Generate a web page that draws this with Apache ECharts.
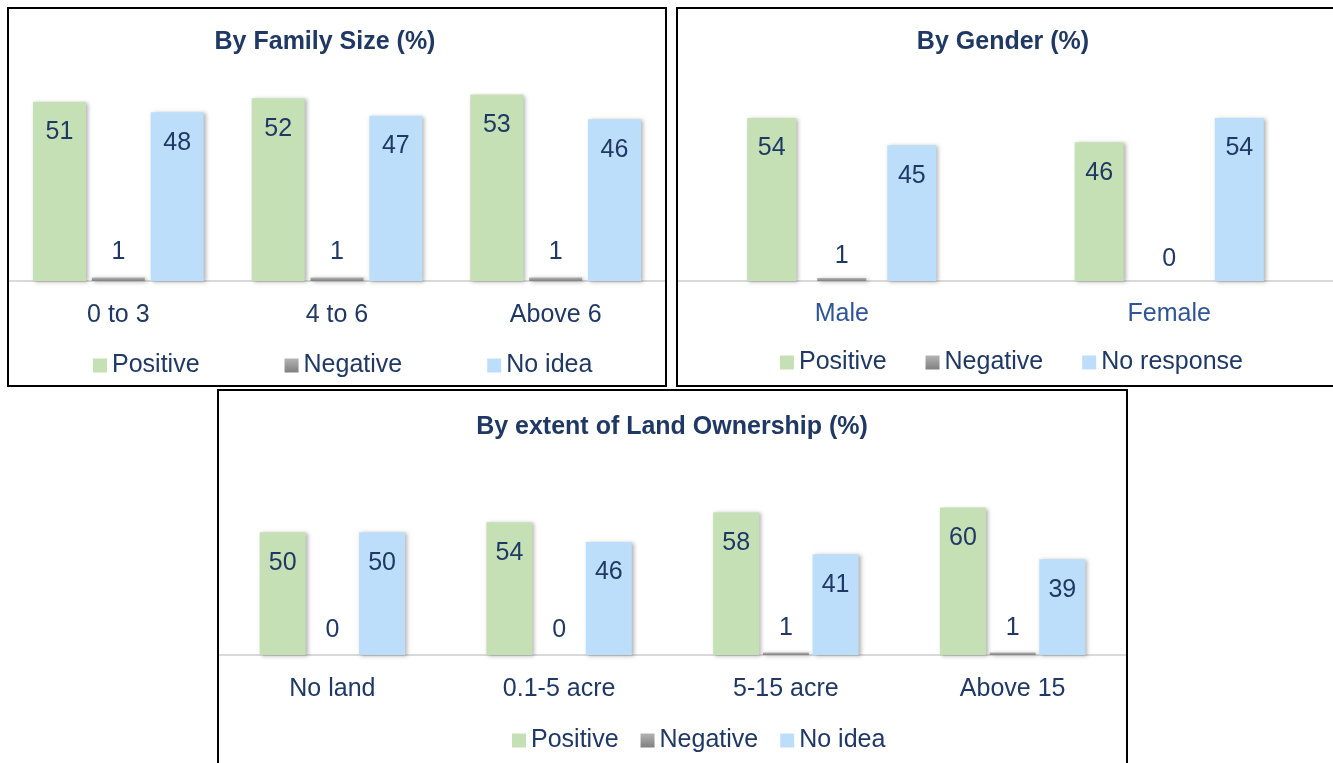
<!DOCTYPE html>
<html>
<head>
<meta charset="utf-8">
<script src="https://cdn.jsdelivr.net/npm/echarts@6/dist/echarts.min.js"></script>
<style>
  html, body { margin: 0; padding: 0; background: #fff; overflow: hidden; }
  body { width: 1333px; height: 763px; position: relative; }
  .panel { position: absolute; border: 2px solid #000; background: #fff; }
  #family { left: 7px; top: 7px; width: 656px; height: 376px; }
  #gender { left: 676px; top: 7px; width: 700px; height: 376px; }
  #land { left: 217px; top: 389px; width: 907px; height: 390px; }
</style>
</head>
<body>
<div id="family" class="panel"></div>
<div id="gender" class="panel"></div>
<div id="land" class="panel"></div>
<script>
// 数据
var familyCats = ["0 to 3", "4 to 6", "Above 6"];
var familyPositive = [51, 52, 53];
var familyNegative = [1, 1, 1];
var familyNoIdea = [48, 47, 46];

var genderCats = ["Male", "Female"];
var genderPositive = [54, 46];
var genderNegative = [1, 0];
var genderNoResponse = [45, 54];

var landCats = ["No land", "0.1-5 acre", "5-15 acre", "Above 15"];
var landPositive = [50, 54, 58, 60];
var landNegative = [0, 0, 1, 1];
var landNoIdea = [50, 46, 41, 39];

var FONT = "'Liberation Sans', Arial, sans-serif";
var NAVY = "#1F3864";
var GREEN = "#C5E0B4";
var BLUE = "#BDDEFB";
var GRAY = new echarts.graphic.LinearGradient(0, 0, 0, 1, [
  { offset: 0, color: "#B4B4B4" },
  { offset: 1, color: "#7F7F7F" }
]);

function barSeries(name, data, color, cfg, small) {
  return {
    name: name,
    type: "bar",
    data: data,
    barWidth: cfg.barWidth,
    barGap: cfg.barGap,
    itemStyle: {
      color: color,
      shadowColor: "rgba(0,0,0,0.3)",
      shadowBlur: 4,
      shadowOffsetX: 2,
      shadowOffsetY: 1
    },
    label: {
      show: true,
      position: small ? "top" : "insideTop",
      distance: small ? cfg.smallDist : 18,
      color: NAVY,
      fontFamily: FONT,
      fontSize: 25
    }
  };
}

/**
 * 生成一个面板的图表
 */
function makeChart(id, cfg) {
  var chart = echarts.init(document.getElementById(id));
  var option = {
    animation: false,
    graphic: [{
      type: "text",
      x: cfg.titleX,
      y: cfg.titleY,
      style: {
        text: cfg.title,
        fill: NAVY,
        font: "bold 25px " + FONT,
        align: "center",
        verticalAlign: "middle"
      }
    }],
    legend: {
      left: cfg.legendLeft,
      top: cfg.legendTop,
      itemWidth: 14,
      itemHeight: 14,
      itemGap: cfg.legendGap,
      icon: "rect",
      textStyle: { color: NAVY, fontFamily: FONT, fontSize: 25 },
      data: cfg.names
    },
    grid: {
      left: 0,
      top: cfg.gridTop,
      width: cfg.gridWidth,
      height: cfg.gridHeight
    },
    xAxis: {
      type: "category",
      data: cfg.cats,
      axisLine: { lineStyle: { color: "#D9D9D9", width: 2 } },
      axisTick: { show: false },
      axisLabel: {
        color: cfg.catColor || NAVY,
        fontFamily: FONT,
        fontSize: 25,
        margin: cfg.catMargin
      }
    },
    yAxis: {
      type: "value",
      min: 0,
      max: cfg.max,
      show: false,
      splitLine: { show: false }
    },
    series: [
      barSeries(cfg.names[0], cfg.values[0], GREEN, cfg, false),
      barSeries(cfg.names[1], cfg.values[1], GRAY, cfg, true),
      barSeries(cfg.names[2], cfg.values[2], BLUE, cfg, false)
    ]
  };
  chart.setOption(option);
  return chart;
}

makeChart("family", {
  title: "By Family Size (%)",
  titleX: 316, titleY: 33,
  cats: familyCats, catMargin: 22,
  names: ["Positive", "Negative", "No idea"],
  values: [familyPositive, familyNegative, familyNoIdea],
  max: 60, gridTop: 61, gridHeight: 211, gridWidth: 656,
  barWidth: 53, barGap: "11%", smallDist: 13,
  legendLeft: 79, legendTop: 339, legendGap: 85
});

makeChart("gender", {
  title: "By Gender (%)",
  titleX: 325, titleY: 33,
  cats: genderCats, catMargin: 21,
  catColor: "#2F5597",
  names: ["Positive", "Negative", "No response"],
  values: [genderPositive, genderNegative, genderNoResponse],
  max: 60, gridTop: 91, gridHeight: 181, gridWidth: 655,
  barWidth: 49, barGap: "43%", smallDist: 9,
  legendLeft: 97, legendTop: 336, legendGap: 39
});

makeChart("land", {
  title: "By extent of Land Ownership (%)",
  titleX: 453, titleY: 36,
  cats: landCats, catMargin: 22,
  names: ["Positive", "Negative", "No idea"],
  values: [landPositive, landNegative, landNoIdea],
  max: 70, gridTop: 92, gridHeight: 172, gridWidth: 907,
  barWidth: 46, barGap: "8%", smallDist: 12,
  legendLeft: 288, legendTop: 332, legendGap: 22
});
</script>
</body>
</html>
